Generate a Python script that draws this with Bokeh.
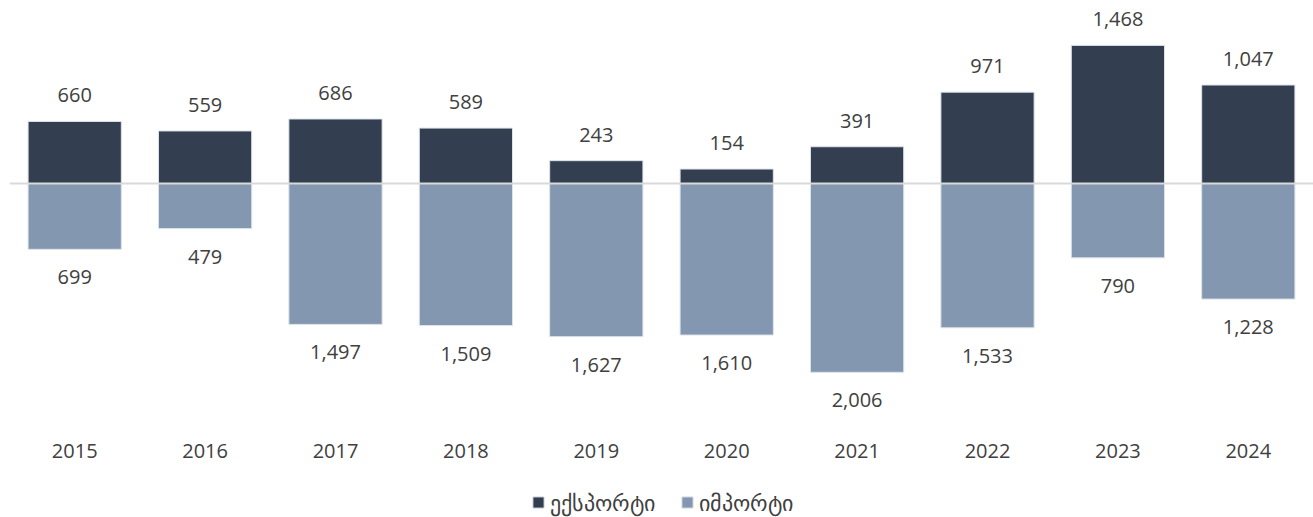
from bokeh.plotting import figure
from bokeh.models import ColumnDataSource, Range1d, Legend, LegendItem
from bokeh.core.properties import value
from bokeh.embed import file_html
from bokeh.resources import INLINE

years = ["2015", "2016", "2017", "2018", "2019", "2020", "2021", "2022", "2023", "2024"]
exports = [660, 559, 686, 589, 243, 154, 391, 971, 1468, 1047]
imports = [699, 479, 1497, 1509, 1627, 1610, 2006, 1533, 790, 1228]
export_name = "ექსპორტი"
import_name = "იმპორტი"

DARK = "#333f50"
LIGHT = "#8497b0"
TXT = "#404040"
FONT = "Open Sans"

src = ColumnDataSource(dict(
    year=years,
    exp=exports,
    imp_neg=[-v for v in imports],
    exp_lbl=[f"{v:,}" for v in exports],
    imp_lbl=[f"{v:,}" for v in imports],
    zero=[0] * len(years),
))

p = figure(width=1313, height=517, x_range=years, y_range=Range1d(-3549, 1945),
           output_backend="svg", toolbar_location=None, min_border=0,
           min_border_left=9, outline_line_color=None)
p.axis.visible = False
p.grid.visible = False
p.background_fill_color = "white"

r_exp = p.vbar(x="year", top="exp", bottom=0, width=0.715, source=src,
               fill_color=DARK, line_color="#dde3ea", line_width=1)
r_imp = p.vbar(x="year", top=0, bottom="imp_neg", width=0.715, source=src,
               fill_color=LIGHT, line_color="#dde3ea", line_width=1)

p.hspan(y=[0], line_color="#d9d9d9", line_width=2)

p.text(x="year", y="exp", text="exp_lbl", source=src, y_offset=-26,
       text_align="center", text_baseline="middle", text_font=value(FONT),
       text_font_size="20px", text_color=TXT)
p.text(x="year", y="imp_neg", text="imp_lbl", source=src, y_offset=28,
       text_align="center", text_baseline="middle", text_font=value(FONT),
       text_font_size="20px", text_color=TXT)
p.text(x="year", y="zero", text="year", source=src, y_offset=267,
       text_align="center", text_baseline="middle", text_font=value(FONT),
       text_font_size="20px", text_color=TXT)

legend = Legend(items=[LegendItem(label=export_name, renderers=[r_exp]),
                       LegendItem(label=import_name, renderers=[r_imp])],
                orientation="horizontal", location=(522, 0),
                glyph_width=14, glyph_height=14, label_text_font=FONT,
                label_text_font_size="22px", label_text_color=TXT,
                border_line_color=None, background_fill_alpha=0,
                spacing=25, label_standoff=5, padding=3, margin=0)
p.add_layout(legend, "center")

open("out.html", "w").write(file_html(p, INLINE))
